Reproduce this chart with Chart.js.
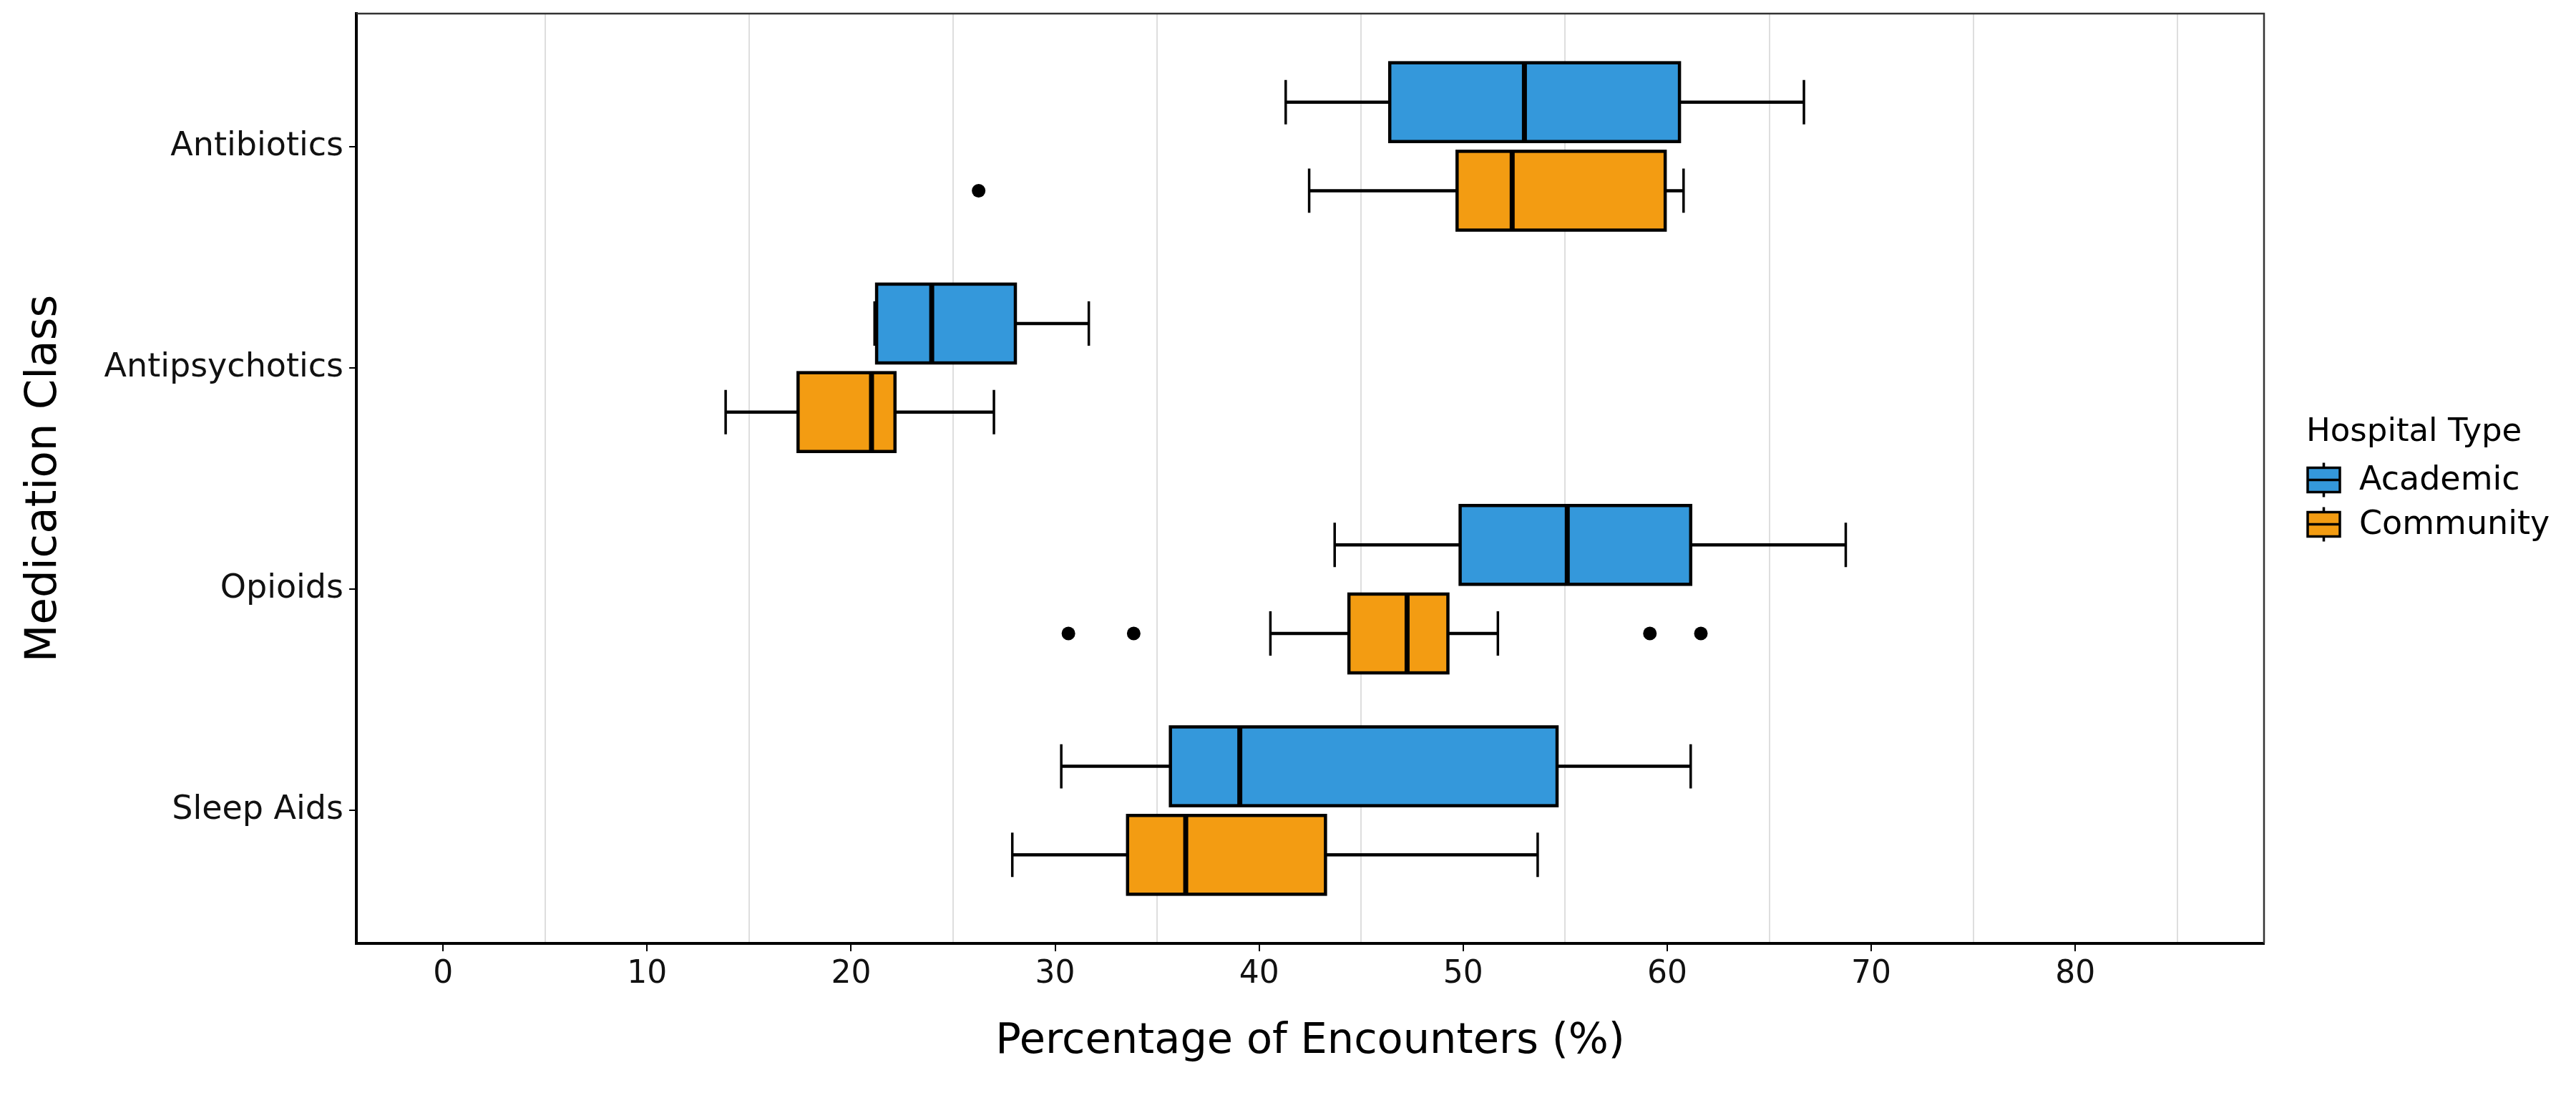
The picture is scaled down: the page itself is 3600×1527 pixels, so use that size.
<!DOCTYPE html>
<html>
<head>
<meta charset="utf-8">
<script src="https://cdn.jsdelivr.net/npm/chart.js@4.4.1/dist/chart.umd.min.js"></script>
<style>
  html, body { margin: 0; padding: 0; background: #fff; }
  #wrap { width: 3600px; height: 1527px; }
</style>
</head>
<body>
<div id="wrap"><canvas id="boxChart"></canvas></div>
<script>
// categories on the y axis, top to bottom
const categories = ['Antibiotics', 'Antipsychotics', 'Opioids', 'Sleep Aids'];
const groups = ['Academic', 'Community'];
const groupColors = ['#3498db', '#f39c12'];
const xTickValues = [0, 10, 20, 30, 40, 50, 60, 70, 80];
const xGridValues = [5, 15, 25, 35, 45, 55, 65, 75, 85];

// box statistics (% of encounters)
const academicMin    = [41.3, 21.15, 43.7, 30.3];
const academicQ1     = [46.4, 21.25, 49.85, 35.65];
const academicMedian = [53.0, 23.95, 55.1, 39.05];
const academicQ3     = [60.6, 28.05, 61.15, 54.6];
const academicMax    = [66.7, 31.65, 68.75, 61.15];

const communityMin    = [42.45, 13.85, 40.55, 27.9];
const communityQ1     = [49.7, 17.4, 44.4, 33.55];
const communityMedian = [52.4, 21.0, 47.25, 36.4];
const communityQ3     = [59.9, 22.15, 49.25, 43.25];
const communityMax    = [60.8, 27.0, 51.7, 53.65];

const academicOutliers  = [[], [], [], []];
const communityOutliers = [[26.25], [], [30.65, 33.85, 59.15, 61.65], []];

const stats = [
  { min: academicMin, q1: academicQ1, med: academicMedian, q3: academicQ3, max: academicMax },
  { min: communityMin, q1: communityQ1, med: communityMedian, q3: communityQ3, max: communityMax }
];
const groupOffset = [-0.2, 0.2];
const boxHalf = 0.178;
const capHalf = 0.1;

function outlierPoints(list, g) {
  const pts = [];
  list.forEach((vals, i) => vals.forEach(v => pts.push({ x: v, y: i + 1 + groupOffset[g] })));
  return pts;
}

const FONT = "'DejaVu Sans', sans-serif";

const boxPlugin = {
  id: 'boxes',
  beforeDatasetsDraw(chart) {
    const { ctx, scales: { x, y } } = chart;
    const unit = Math.abs(y.getPixelForValue(2) - y.getPixelForValue(1));
    stats.forEach((s, g) => {
      for (let i = 0; i < categories.length; i++) {
        const yc = y.getPixelForValue(i + 1 + groupOffset[g]);
        const h = unit * boxHalf;
        const cap = unit * capHalf;
        const xMin = x.getPixelForValue(s.min[i]);
        const xQ1 = x.getPixelForValue(s.q1[i]);
        const xMed = x.getPixelForValue(s.med[i]);
        const xQ3 = x.getPixelForValue(s.q3[i]);
        const xMax = x.getPixelForValue(s.max[i]);
        ctx.save();
        ctx.strokeStyle = '#000';
        // whiskers
        ctx.lineWidth = 4.5;
        ctx.beginPath();
        ctx.moveTo(xMin, yc); ctx.lineTo(xQ1, yc);
        ctx.moveTo(xQ3, yc); ctx.lineTo(xMax, yc);
        ctx.stroke();
        ctx.lineWidth = 3.5;
        ctx.beginPath();
        ctx.moveTo(xMin, yc - cap); ctx.lineTo(xMin, yc + cap);
        ctx.moveTo(xMax, yc - cap); ctx.lineTo(xMax, yc + cap);
        ctx.stroke();
        // box
        ctx.fillStyle = groupColors[g];
        ctx.fillRect(xQ1, yc - h, xQ3 - xQ1, 2 * h);
        ctx.lineWidth = 4.5;
        ctx.strokeRect(xQ1, yc - h, xQ3 - xQ1, 2 * h);
        // median
        ctx.lineWidth = 7;
        ctx.beginPath();
        ctx.moveTo(xMed, yc - h); ctx.lineTo(xMed, yc + h);
        ctx.stroke();
        ctx.restore();
      }
    });
  },
  afterDraw(chart) {
    const { ctx, chartArea: a } = chart;
    ctx.save();
    // panel border on top and right
    ctx.strokeStyle = '#333';
    ctx.lineWidth = 2.5;
    ctx.beginPath();
    ctx.moveTo(a.left, a.top); ctx.lineTo(a.right, a.top); ctx.lineTo(a.right, a.bottom);
    ctx.stroke();

    // legend
    const mid = (a.top + a.bottom) / 2;
    const lx = a.right + 61;
    ctx.fillStyle = '#000';
    ctx.font = '45px ' + FONT;
    ctx.textAlign = 'left';
    ctx.textBaseline = 'alphabetic';
    ctx.fillText('Hospital Type', a.right + 59, mid - 53);
    groups.forEach((name, g) => {
      const cy = mid + 2 + g * 62;
      ctx.fillStyle = groupColors[g];
      ctx.fillRect(lx, cy - 17, 45, 34);
      ctx.strokeStyle = '#000';
      ctx.lineWidth = 3.5;
      ctx.strokeRect(lx, cy - 17, 45, 34);
      ctx.beginPath();
      ctx.moveTo(lx, cy); ctx.lineTo(lx + 45, cy);
      ctx.moveTo(lx + 22.5, cy - 24); ctx.lineTo(lx + 22.5, cy - 17);
      ctx.moveTo(lx + 22.5, cy + 17); ctx.lineTo(lx + 22.5, cy + 24);
      ctx.stroke();
      ctx.fillStyle = '#000';
      ctx.font = '46px ' + FONT;
      ctx.textBaseline = 'middle';
      ctx.fillText(name, a.right + 133, cy + 2);
    });
    ctx.restore();
  }
};

const ctx = document.getElementById('boxChart').getContext('2d');
const boxChart = new Chart(ctx, {
  type: 'scatter',
  data: {
    datasets: [
      {
        label: groups[0],
        data: outlierPoints(academicOutliers, 0),
        backgroundColor: '#000',
        borderWidth: 0,
        pointRadius: 9.5
      },
      {
        label: groups[1],
        data: outlierPoints(communityOutliers, 1),
        backgroundColor: '#000',
        borderWidth: 0,
        pointRadius: 9.5
      }
    ]
  },
  options: {
    responsive: true,
    maintainAspectRatio: false,
    animation: false,
    layout: { padding: { top: 19, right: 436, bottom: 0, left: 0 } },
    scales: {
      x: {
        type: 'linear',
        min: -4.25,
        max: 89.25,
        afterBuildTicks: s => { s.ticks = xTickValues.concat(xGridValues).sort((a, b) => a - b).map(v => ({ value: v })); },
        afterFit: s => { s.height = 209; s.paddingLeft = 0; s.paddingRight = 0; },
        ticks: {
          autoSkip: false,
          maxRotation: 0,
          padding: 6,
          color: '#111',
          font: { family: FONT, size: 44 },
          callback: v => (xTickValues.includes(v) ? String(v) : '')
        },
        grid: {
          color: c => (c.tick && xGridValues.includes(c.tick.value) ? '#dedede' : 'rgba(0,0,0,0)'),
          lineWidth: 2,
          tickLength: 11,
          tickWidth: 2,
          tickColor: c => (c.tick && xTickValues.includes(c.tick.value) ? '#000' : 'rgba(0,0,0,0)')
        },
        border: { display: true, color: '#000', width: 4 },
        title: {
          display: true,
          text: 'Percentage of Encounters (%)',
          color: '#000',
          font: { family: FONT, size: 59 },
          padding: { top: 0, bottom: 36 }
        }
      },
      y: {
        type: 'linear',
        reverse: true,
        min: 0.4,
        max: 4.6,
        afterBuildTicks: s => { s.ticks = categories.map((c, i) => ({ value: i + 1 })); },
        afterFit: s => { s.width = 498; s.paddingTop = 0; s.paddingBottom = 0; },
        ticks: {
          autoSkip: false,
          padding: 8,
          color: '#111',
          font: { family: FONT, size: 46 },
          callback: v => categories[v - 1] || ''
        },
        grid: {
          drawOnChartArea: false,
          color: '#000',
          lineWidth: 2,
          tickLength: 10
        },
        border: { display: true, color: '#000', width: 4 },
        title: {
          display: true,
          text: 'Medication Class',
          color: '#000',
          font: { family: FONT, size: 61 },
          padding: { top: 26, bottom: 0 }
        }
      }
    },
    plugins: {
      legend: { display: false },
      tooltip: { enabled: false }
    }
  },
  plugins: [boxPlugin]
});
</script>
</body>
</html>
